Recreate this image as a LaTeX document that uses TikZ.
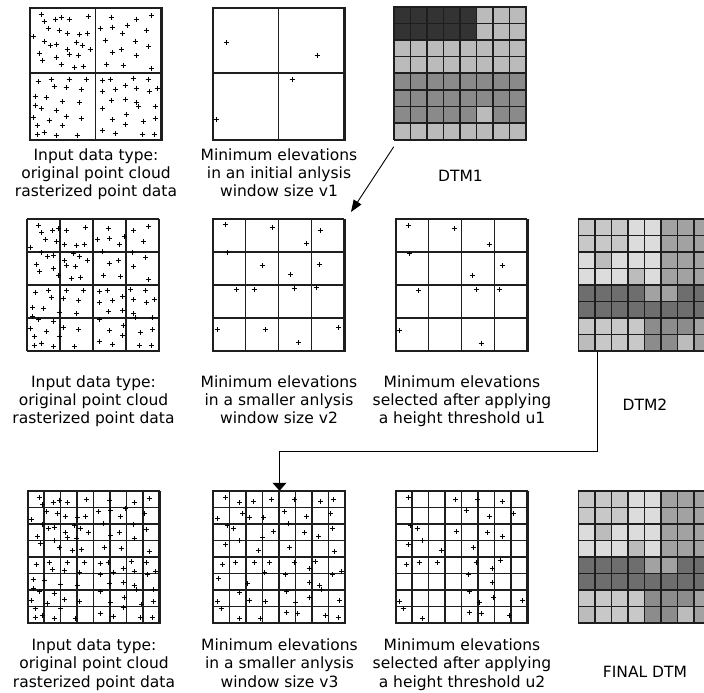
\documentclass[tikz,border=0pt]{standalone}
\usepackage{fontspec}
\setmainfont{DejaVu Sans}
\usetikzlibrary{positioning,arrows.meta}

\definecolor{gridc}{HTML}{1E1E1E}
% DTM1 tones
\definecolor{dtmk}{HTML}{333333}
\definecolor{dtml}{HTML}{BBBBBB}
\definecolor{dtmm}{HTML}{8A8A8A}
% DTM2 / final tones
\definecolor{dtma}{HTML}{C8C8C8}
\definecolor{dtmb}{HTML}{DCDCDC}
\definecolor{dtmc}{HTML}{A2A2A2}
\definecolor{dtmd}{HTML}{6E6E6E}
\definecolor{dtme}{HTML}{8C8C8C}
\definecolor{dtmf}{HTML}{BCBCBC}

% point positions, px from the upper left corner of a 132px window
\newcommand\cloudpts{12/7, 15/14, 26/12, 32/10, 40/12, 59/9, 19/21, 30/23, 38/26, 50/27,
  58/26, 4/29, 15/34, 21/38, 27/37, 38/42, 47/35, 53/38, 61/42, 10/46, 27/50, 40/47,
  49/48, 13/53, 32/57, 45/60, 54/59,
  82/10, 107/12, 122/8, 71/21, 83/20, 98/18, 93/26, 117/23, 76/33, 106/34, 119/39,
  92/42, 83/45, 107/48, 77/57, 94/58, 122/61,
  9/74, 22/72, 40/72, 57/72, 25/79, 37/80, 52/82, 6/89, 17/90, 33/94, 50/95, 6/98,
  12/101, 27/103, 37/109, 4/110, 20/113, 52/111, 8/118, 33/118, 8/127, 15/125, 27/128, 48/128,
  73/73, 81/72, 104/71, 119/72, 73/84, 86/82, 96/78, 107/81, 120/84, 128/81, 82/93,
  96/92, 107/95, 109/99, 126/99, 73/101, 97/107, 83/112, 96/117, 114/114, 126/111,
  73/123, 86/126, 113/127, 125/127}
\newcommand\vonepts{14/35, 105/48, 80/72, 4/112}
\newcommand\vtwopts{13/6, 60/9, 108/12, 94/25, 15/34, 50/47, 107/46, 78/56, 24/71, 42/71,
  82/70, 104/69, 5/111, 53/111, 126/109, 86/124}
\newcommand\uonepts{13/7, 59/10, 94/26, 14/35, 107/47, 77/57, 23/72, 81/71, 104/71, 4/112, 86/125}
\newcommand\vthreepts{13/7, 27/12, 41/11, 59/9, 82/9, 108/11, 121/9, 5/28, 30/23, 37/27,
  51/27, 72/21, 94/26, 118/23, 76/33, 15/35, 21/38, 61/41, 92/42, 106/46, 120/38, 50/47,
  13/54, 27/50, 46/60, 77/57, 122/61, 10/74, 23/72, 42/72, 57/72, 82/72, 97/78, 103/71,
  129/81, 6/88, 52/82, 35/93, 73/84, 97/92, 107/95, 120/84, 109/99, 27/102, 37/110,
  53/111, 74/101, 97/107, 5/111, 83/112, 127/110, 9/118, 27/128, 48/128, 74/122, 85/123,
  113/125, 126/127}
\newcommand\utwopts{13/7, 60/9, 82/9, 107/11, 71/20, 94/26, 118/23, 15/35, 22/38, 61/41,
  92/42, 107/46, 13/54, 27/50, 46/60, 78/57, 11/74, 24/72, 42/72, 81/72, 97/78, 105/70,
  73/84, 97/92, 74/101, 98/107, 4/111, 84/112, 127/110, 8/118, 27/128, 74/122, 86/123, 114/125}

\begin{document}
\begin{tikzpicture}[x=1pt,y=-1pt,
  panel/.style={draw=gridc,line width=1.5pt,minimum size=132pt,inner sep=0pt},
  gridln/.style={draw=gridc,line width=1.5pt},
  pluspt/.style={line width=1.2pt},
  caption/.style={font=\fontsize{15.5}{18}\selectfont,align=center,inner sep=0pt},
  captionlow/.style={caption,font=\fontsize{15.5}{18.5}\selectfont},
  link/.style={line width=0.9pt}]
\clip (0,0) rectangle (704,693);

% row 1
\node[panel] (cloudA) at (96,74) {};
\node[panel] (minA) at (279,74) {};
\node[panel] (dtmA) at (460.5,74) {};

\begin{scope}[shift={(cloudA.north west)}]
\draw[gridln] (0,0) grid[step=66pt] (132,132);
\foreach \px/\py in \cloudpts
  \draw[pluspt] (\px,\py) +(-2.7,0) -- +(2.7,0) +(0,-2.7) -- +(0,2.7);
\end{scope}

\begin{scope}[shift={(minA.north west)}]
\draw[gridln] (0,0) grid[step=66pt] (132,132);
\foreach \px/\py in \vonepts
  \draw[pluspt] (\px,\py) +(-2.7,0) -- +(2.7,0) +(0,-2.7) -- +(0,2.7);
\end{scope}

\begin{scope}[shift={(dtmA.north west)}]
\foreach \rw [count=\ri from 0] in {{k,k,k,k,k,l,l,l},{k,k,k,k,k,l,l,l},{l,l,l,l,l,l,l,l},
    {l,l,l,l,l,l,l,l},{m,m,m,m,m,m,m,m},{m,m,m,m,m,m,m,m},{m,m,m,m,m,l,m,m},{l,l,l,l,l,l,l,l}}
  \foreach \tone [count=\ci from 0] in \rw
    \fill[dtm\tone] (\ci*16.5,\ri*16.5) rectangle ++(16.5,16.5);
\draw[gridln] (0,0) grid[step=16.5pt] (132,132);
\draw[gridln] (0,0) rectangle (132,132);
\end{scope}

\node[caption,below=8pt of cloudA] (capA) {Input data type:\\original point cloud\\rasterized point data};
\node[caption,below=8pt of minA] (capB) {Minimum elevations\\in an initial anlysis\\window size v1};
\node[caption,below=29pt of dtmA] (capC) {DTM1};

% row 2
\node[panel] (cloudB) at (93.5,285.5) {};
\node[panel] (minB) at (279,285.5) {};
\node[panel] (thrA) at (462,285.5) {};
\node[panel] (dtmB) at (645,285.5) {};

\begin{scope}[shift={(cloudB.north west)}]
\draw[gridln] (0,0) grid[step=33pt] (132,132);
\foreach \px/\py in \cloudpts
  \draw[pluspt] (\px,\py) +(-2.7,0) -- +(2.7,0) +(0,-2.7) -- +(0,2.7);
\end{scope}

\begin{scope}[shift={(minB.north west)}]
\draw[gridln] (0,0) grid[step=33pt] (132,132);
\foreach \px/\py in \vtwopts
  \draw[pluspt] (\px,\py) +(-2.7,0) -- +(2.7,0) +(0,-2.7) -- +(0,2.7);
\end{scope}

\begin{scope}[shift={(thrA.north west)}]
\draw[gridln] (0,0) grid[step=33pt] (132,132);
\foreach \px/\py in \uonepts
  \draw[pluspt] (\px,\py) +(-2.7,0) -- +(2.7,0) +(0,-2.7) -- +(0,2.7);
\end{scope}

\begin{scope}[shift={(dtmB.north west)}]
\foreach \rw [count=\ri from 0] in {{a,a,a,b,b,c,c,c},{a,a,a,b,b,c,c,c},{b,f,b,b,b,c,c,c},
    {b,b,b,f,b,c,c,c},{d,d,d,d,c,c,d,d},{d,d,d,d,d,d,d,d},{a,a,a,a,e,e,e,c},{f,a,a,a,e,e,f,c}}
  \foreach \tone [count=\ci from 0] in \rw
    \fill[dtm\tone] (\ci*16.5,\ri*16.5) rectangle ++(16.5,16.5);
\draw[gridln] (0,0) grid[step=16.5pt] (132,132);
\draw[gridln] (0,0) rectangle (132,132);
\end{scope}

\node[caption,below=23pt of cloudB] (capD) {Input data type:\\original point cloud\\rasterized point data};
\node[caption,below=23pt of minB] (capE) {Minimum elevations\\in a smaller anlysis\\window size v2};
\node[caption,below=23pt of thrA] (capF) {Minimum elevations\\selected after applying\\a height threshold u1};
\node[caption,below=47pt of dtmB] (capG) {DTM2};

% row 3
\node[panel] (cloudC) at (94,557.5) {};
\node[panel] (minC) at (279.5,557.5) {};
\node[panel] (thrB) at (462,557.5) {};
\node[panel] (dtmC) at (645,557.5) {};

\begin{scope}[shift={(cloudC.north west)}]
\draw[gridln] (0,0) grid[step=16.5pt] (132,132);
\draw[gridln] (0,0) rectangle (132,132);
\foreach \px/\py in \cloudpts
  \draw[pluspt] (\px,\py) +(-2.7,0) -- +(2.7,0) +(0,-2.7) -- +(0,2.7);
\end{scope}

\begin{scope}[shift={(minC.north west)}]
\draw[gridln] (0,0) grid[step=16.5pt] (132,132);
\draw[gridln] (0,0) rectangle (132,132);
\foreach \px/\py in \vthreepts
  \draw[pluspt] (\px,\py) +(-2.7,0) -- +(2.7,0) +(0,-2.7) -- +(0,2.7);
\end{scope}

\begin{scope}[shift={(thrB.north west)}]
\draw[gridln] (0,0) grid[step=16.5pt] (132,132);
\draw[gridln] (0,0) rectangle (132,132);
\foreach \px/\py in \utwopts
  \draw[pluspt] (\px,\py) +(-2.7,0) -- +(2.7,0) +(0,-2.7) -- +(0,2.7);
\end{scope}

\begin{scope}[shift={(dtmC.north west)}]
\foreach \rw [count=\ri from 0] in {{a,a,a,b,b,c,c,c},{a,a,a,b,b,c,c,c},{b,f,b,b,b,c,c,c},
    {b,b,b,f,b,c,c,c},{d,d,d,d,c,c,d,d},{d,d,d,d,d,d,d,d},{a,a,a,a,e,e,e,c},{f,a,a,a,e,e,f,c}}
  \foreach \tone [count=\ci from 0] in \rw
    \fill[dtm\tone] (\ci*16.5,\ri*16.5) rectangle ++(16.5,16.5);
\draw[gridln] (0,0) grid[step=16.5pt] (132,132);
\draw[gridln] (0,0) rectangle (132,132);
\end{scope}

\node[captionlow,below=14pt of cloudC] (capH) {Input data type:\\original point cloud\\rasterized point data};
\node[captionlow,below=14pt of minC] (capI) {Minimum elevations\\in a smaller anlysis\\window size v3};
\node[captionlow,below=14pt of thrB] (capJ) {Minimum elevations\\selected after applying\\a height threshold u2};
\node[caption,below=42pt of dtmC] (capK) {FINAL DTM};

% connectors
\coordinate (tipA) at (351,212);
\draw[link,-{Triangle[length=12pt,width=9pt]}] ([yshift=-6pt]dtmA.south west) -- (tipA);
\draw[link,-{Triangle[length=8pt,width=14pt]}] ([xshift=19pt]dtmB.south west) -- ++(0,99) -| (minC.north);
\end{tikzpicture}
\end{document}
